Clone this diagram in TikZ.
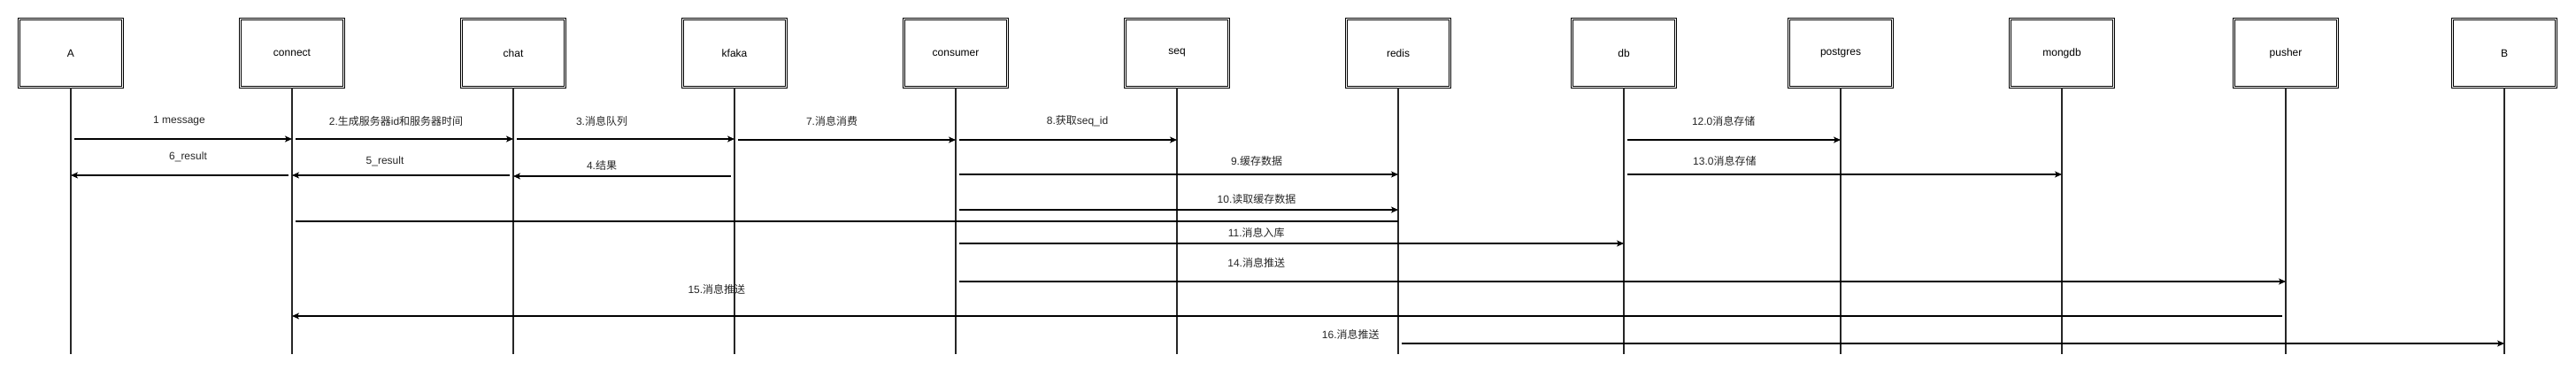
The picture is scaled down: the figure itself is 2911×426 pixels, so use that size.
\documentclass[tikz,border=0pt]{standalone}
\usepackage{fontspec}
\setmainfont{Liberation Sans}
\newfontfamily\cjk{Noto Sans CJK SC}
\newcommand{\zh}[1]{{\cjk #1}}
\usetikzlibrary{arrows.meta}

\begin{document}
\begin{tikzpicture}[x=1pt, y=-1pt, font=\fontsize{12}{14}\selectfont,
    actor/.style={draw, double, double distance=1.6pt, line width=0.9pt, minimum width=117pt, minimum height=77pt, inner sep=0pt},
    life/.style={line width=1.4pt, draw=black!85},
    msg/.style={line width=1.1pt, shorten <=4pt, -{Stealth[length=8pt, width=7pt, inset=2pt]}},
    lbl/.style={inner sep=0pt, text=black!85}]
        \useasboundingbox (0,0) rectangle (2911,426);
        % Draw actors and lifelines
        \foreach \n/\x in {A/80, connect/330, chat/580, kfaka/830, consumer/1080, seq/1330, redis/1580, db/1835, postgres/2080, mongdb/2330, pusher/2583, B/2830} {
            \node[actor] (\n) at (\x,60) {\n};
            \coordinate (\n-end) at (\x,400);
            \draw[life] (\n.south) -- (\n-end);
        }
        % Messages going right
        \draw[msg] (A |- 0,157) -- (connect |- 0,157) node[lbl, pos=0.49, yshift=20pt] {1 message};
        \draw[msg] (connect |- 0,157) -- (chat |- 0,157) node[lbl, pos=0.47, yshift=20pt] {2.\zh{生成服务器}id\zh{和服务器时间}};
        \draw[msg] (chat |- 0,157) -- (kfaka |- 0,157) node[lbl, pos=0.40, yshift=20pt] {3.\zh{消息队列}};
        \draw[msg] (kfaka |- 0,158) -- (consumer |- 0,158) node[lbl, pos=0.44, yshift=21pt] {7.\zh{消息消费}};
        \draw[msg] (consumer |- 0,158) -- (seq |- 0,158) node[lbl, pos=0.55, yshift=21pt] {8.\zh{获取}seq\_id};
        \draw[msg] (db |- 0,158) -- (postgres |- 0,158) node[lbl, pos=0.46, yshift=21pt] {12.0\zh{消息存储}};
        % Results going back
        \draw[msg] (kfaka |- 0,199) -- (chat |- 0,199) node[lbl, pos=0.60, yshift=12pt] {4.\zh{结果}};
        \draw[msg] (chat |- 0,198) -- (connect |- 0,198) node[lbl, pos=0.58, yshift=16pt] {5\_result};
        \draw[msg] (connect |- 0,198) -- (A |- 0,198) node[lbl, pos=0.47, yshift=21pt] {6\_result};
        % Cache and storage
        \draw[msg] (consumer |- 0,197) -- (redis |- 0,197) node[lbl, pos=0.68, yshift=15pt] {9.\zh{缓存数据}};
        \draw[msg] (db |- 0,197) -- (mongdb |- 0,197) node[lbl, pos=0.23, yshift=15pt] {13.0\zh{消息存储}};
        \draw[msg] (consumer |- 0,237) -- (redis |- 0,237) node[lbl, pos=0.68, yshift=12pt] {10.\zh{读取缓存数据}};
        \draw[line width=1.1pt, shorten <=4pt] (connect |- 0,250) -- (redis |- 0,250);
        \draw[msg] (consumer |- 0,275) -- (db |- 0,275) node[lbl, pos=0.45, yshift=12pt] {11.\zh{消息入库}};
        % Push
        \draw[msg] (consumer |- 0,318) -- (pusher |- 0,318) node[lbl, pos=0.226, yshift=21pt] {14.\zh{消息推送}};
        \draw[msg] (pusher |- 0,357) -- (connect |- 0,357) node[lbl, pos=0.787, yshift=30pt] {15.\zh{消息推送}};
        \draw[msg] (redis |- 0,388) -- (B |- 0,388) node[lbl, pos=-0.043, yshift=10pt] {16.\zh{消息推送}};
\end{tikzpicture}
\end{document}
